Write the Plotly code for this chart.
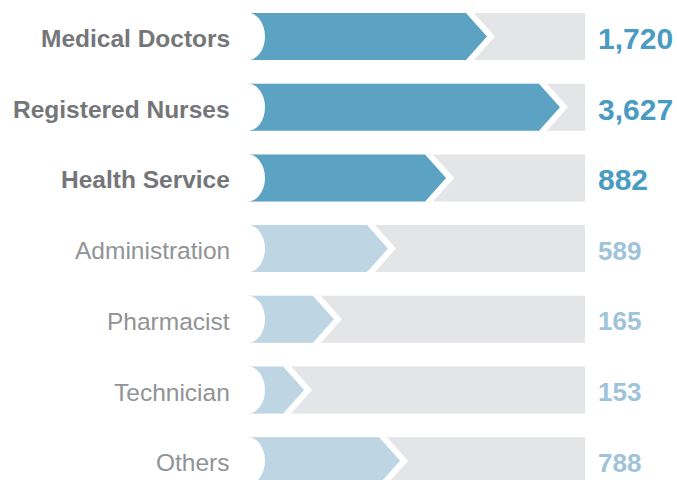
import plotly.graph_objects as go

# ---- data ----
categories = ["Medical Doctors", "Registered Nurses", "Health Service",
              "Administration", "Pharmacist", "Technician", "Others"]
values = [1720, 3627, 882, 589, 165, 153, 788]
bar_pct = [71.0, 92.6, 58.9, 41.7, 25.7, 16.9, 45.3]   # drawn bar length (% of track)
highlight = [True, True, True, False, False, False, False]

# ---- styling ----
W, H = 677, 480
TRACK_L_PX, TRACK_R_PX = 247, 585
PX_PER_X = (TRACK_R_PX - TRACK_L_PX) / 100.0
ROW0_PX, ROW_STEP_PX = 36.5, 70.7
xr = [-TRACK_L_PX / PX_PER_X, (W - TRACK_L_PX) / PX_PER_X]
yr = [(H - ROW0_PX) / ROW_STEP_PX, -ROW0_PX / ROW_STEP_PX]
px_x = 1 / PX_PER_X
px_y = 1 / ROW_STEP_PX
half_h = 23.5 * px_y
tip_d = 21 * px_x
gap = 8 * px_x
notch_r = 18 * px_x

DARK_BAR, LIGHT_BAR, GREY = "#5ca3c3", "#bed5e3", "#e4e5e7"
DARK_LBL, LIGHT_LBL = "#747679", "#919396"
DARK_NUM, LIGHT_NUM = "#4a9bc2", "#9fc4da"
FONT = "Liberation Sans, Arial, sans-serif"

fig = go.Figure()

def poly(xs, ys, color):
    fig.add_trace(go.Scatter(x=xs, y=ys, mode="lines", fill="toself",
                             fillcolor=color, line=dict(width=0, color=color),
                             hoverinfo="skip", showlegend=False))

for i, (cat, v, p, hl) in enumerate(zip(categories, values, bar_pct, highlight)):
    top, bot = i - half_h, i + half_h
    # grey track
    poly([0, 100, 100, 0, 0], [top, top, bot, bot, top], GREY)
    # white chevron stripe
    poly([0, p - tip_d + gap, p + gap, p - tip_d + gap, 0, 0],
         [top, top, i, bot, bot, top], "white")
    # value chevron
    poly([0, p - tip_d, p, p - tip_d, 0, 0],
         [top, top, i, bot, bot, top], DARK_BAR if hl else LIGHT_BAR)
    # left notch
    fig.add_shape(type="circle", xref="x", yref="y",
                  x0=-notch_r, x1=notch_r, y0=top - 0.5 * px_y, y1=bot + 0.5 * px_y,
                  fillcolor="white", line=dict(width=0), layer="above")
    # category label
    fig.add_annotation(x=-15 * px_x, y=i + 2 * px_y, xref="x", yref="y",
                       text=cat, showarrow=False, xanchor="right", yanchor="middle",
                       font=dict(family=FONT, size=24.5,
                                 color=DARK_LBL if hl else LIGHT_LBL,
                                 weight=700 if hl else 400))
    # value label
    fig.add_annotation(x=100 + 11 * px_x, y=i + 2 * px_y, xref="x", yref="y",
                       text=f"{v:,}", showarrow=False, xanchor="left", yanchor="middle",
                       font=dict(family=FONT, size=30 if hl else 26,
                                 color=DARK_NUM if hl else LIGHT_NUM, weight=700))

fig.update_layout(
    width=W, height=H, margin=dict(l=0, r=0, t=0, b=0),
    paper_bgcolor="white", plot_bgcolor="white",
    xaxis=dict(range=xr, visible=False, fixedrange=True),
    yaxis=dict(range=yr, visible=False, fixedrange=True),
    showlegend=False,
)
fig.write_html("out.html", config={"displayModeBar": False},
               post_script="document.body.style.margin='0px';document.body.style.overflow='hidden';")
